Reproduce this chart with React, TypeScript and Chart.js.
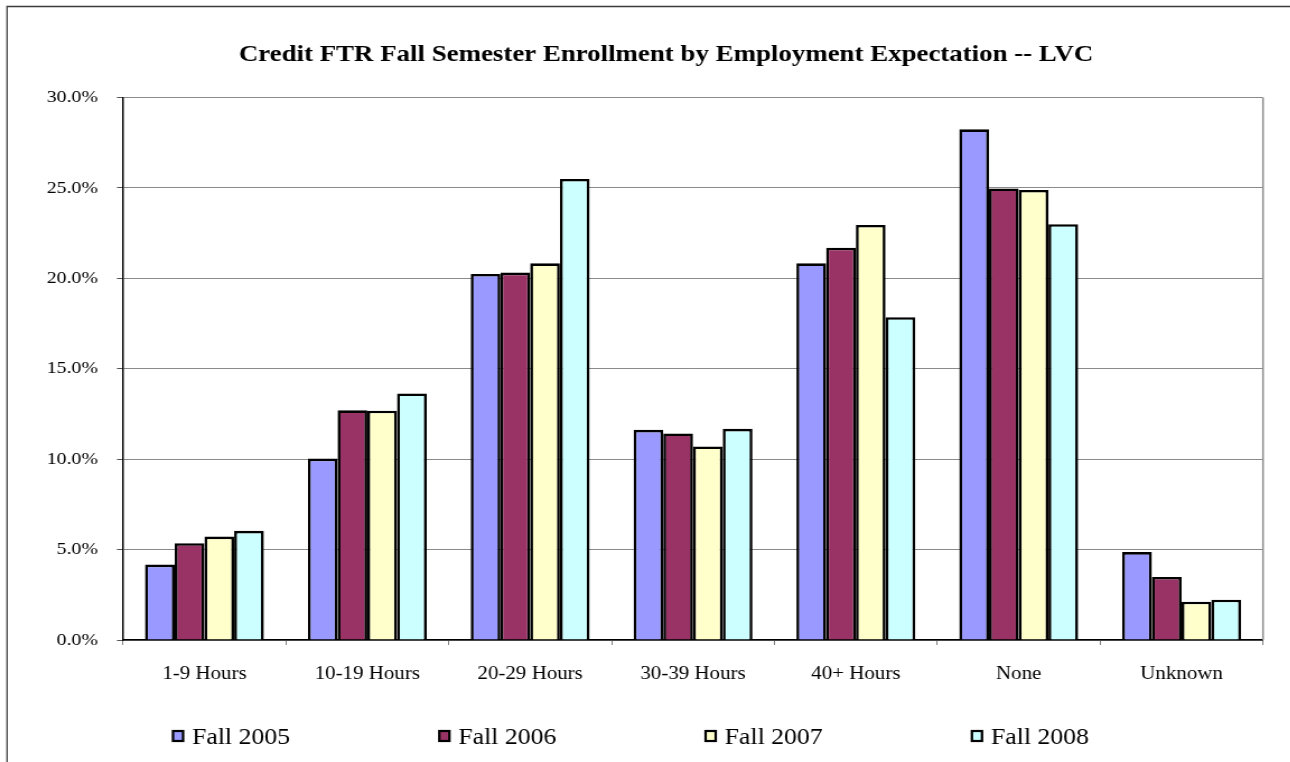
import React, { useEffect, useRef } from "react";
import { Chart, registerables } from "chart.js";

Chart.register(...registerables);

const title = "Credit FTR Fall Semester Enrollment by Employment Expectation -- LVC";
const categories = ["1-9 Hours", "10-19 Hours", "20-29 Hours", "30-39 Hours", "40+ Hours", "None", "Unknown"];
const seriesNames = ["Fall 2005", "Fall 2006", "Fall 2007", "Fall 2008"];
const fall2005 = [4.17, 10.03, 20.24, 11.62, 20.83, 28.24, 4.86];
const fall2006 = [5.35, 12.7, 20.32, 11.42, 21.69, 24.97, 3.49];
const fall2007 = [5.72, 12.68, 20.83, 10.7, 22.95, 24.89, 2.12];
const fall2008 = [6.04, 13.63, 25.5, 11.68, 17.85, 22.99, 2.23];
const seriesColors = ["#9999FF", "#993366", "#FFFFCC", "#CCFFFF"];
const yMax = 30;
const yStep = 5;

const STRETCH = 1.12;
const W = 1152;
const H = 762;
const FONT = "'Liberation Serif', 'Times New Roman', serif";

const decorPlugin = {
  id: "decor",
  beforeDraw(chart: any) {
    const ctx = chart.ctx;
    ctx.save();
    ctx.fillStyle = "#ffffff";
    ctx.fillRect(0, 0, chart.width, chart.height);
    ctx.restore();
  },
  afterDraw(chart: any) {
    const ctx = chart.ctx;
    const area = chart.chartArea;
    ctx.save();
    // outer border
    ctx.strokeStyle = "#3a3a3a";
    ctx.lineWidth = 1.3;
    ctx.beginPath();
    ctx.moveTo(6.3, H + 10);
    ctx.lineTo(6.3, 6.5);
    ctx.lineTo(W + 10, 6.5);
    ctx.stroke();
    // right border of plot area
    ctx.strokeStyle = "#8c8c8c";
    ctx.lineWidth = 1.5;
    ctx.beginPath();
    ctx.moveTo(area.right, area.top);
    ctx.lineTo(area.right, area.bottom);
    ctx.stroke();
    // title
    ctx.fillStyle = "#000";
    ctx.font = `bold 24px ${FONT}`;
    ctx.textAlign = "center";
    ctx.textBaseline = "middle";
    ctx.fillText(title, 666 / STRETCH, 55);
    // legend
    ctx.font = `23px ${FONT}`;
    ctx.textAlign = "left";
    chart.data.datasets.forEach((ds: any, i: number) => {
      const bx = (173 + i * 266.3) / STRETCH;
      ctx.fillStyle = ds.backgroundColor;
      ctx.fillRect(bx, 731, 9, 10);
      ctx.strokeStyle = "#000";
      ctx.lineWidth = 2.2;
      ctx.strokeRect(bx, 731, 9, 10);
      ctx.fillStyle = "#000";
      ctx.fillText(ds.label, bx + 17, 737.5);
    });
    ctx.restore();
  },
};

export default function App() {
  const ref = useRef<HTMLCanvasElement | null>(null);
  useEffect(() => {
    document.body.style.margin = "0";
    const seriesValues = [fall2005, fall2006, fall2007, fall2008];
    const chart = new Chart(ref.current as HTMLCanvasElement, {
      type: "bar",
      data: {
        labels: categories,
        datasets: seriesNames.map((name, i) => ({
          label: name,
          data: seriesValues[i],
          backgroundColor: seriesColors[i],
          borderColor: "#000000",
          borderWidth: 2.6,
          categoryPercentage: 0.73,
          barPercentage: 1,
        })),
      },
      options: {
        animation: false,
        responsive: false,
        devicePixelRatio: 1,
        layout: { padding: { left: 0, right: W - 1263 / STRETCH, top: 97.5, bottom: 0 } },
        plugins: {
          legend: { display: false },
          title: { display: false },
          tooltip: { enabled: false },
        },
        scales: {
          x: {
            afterFit: (s: any) => {
              s.height = H - 640;
            },
            grid: {
              display: true,
              drawOnChartArea: false,
              drawTicks: true,
              tickLength: 5,
              color: "#808080",
              offset: true,
            },
            border: { display: true, color: "#000", width: 1.5 },
            ticks: {
              color: "#000",
              font: { family: FONT, size: 18.7 },
              padding: 18,
              maxRotation: 0,
            },
          },
          y: {
            min: 0,
            max: yMax,
            afterFit: (s: any) => {
              s.width = 123 / STRETCH;
            },
            grid: {
              color: "#8a8a8a",
              lineWidth: 1,
              drawTicks: true,
              tickLength: 5.4,
              tickColor: "#555",
            },
            border: { display: true, color: "#000", width: 1.5 },
            ticks: {
              stepSize: yStep,
              color: "#000",
              font: { family: FONT, size: 17.7 },
              padding: 17,
              callback: (v: any) => Number(v).toFixed(1) + "%",
            },
          },
        },
      },
      plugins: [decorPlugin],
    });
    return () => chart.destroy();
  }, []);

  return (
    <div style={{ position: "fixed", left: 0, top: 0, width: 1290, height: 762, overflow: "hidden", background: "#fff" }}>
      <div style={{ width: W, height: H, transform: `scaleX(${STRETCH})`, transformOrigin: "0 0" }}>
        <canvas ref={ref} width={W} height={H} style={{ display: "block" }} />
      </div>
    </div>
  );
}
